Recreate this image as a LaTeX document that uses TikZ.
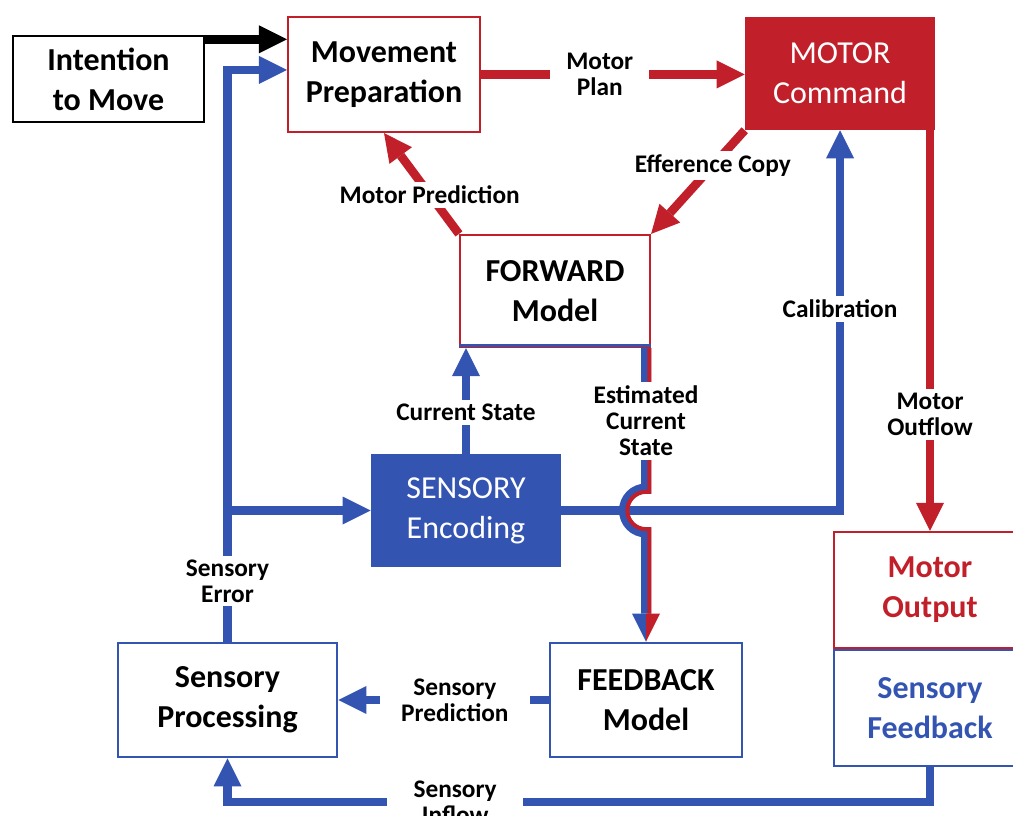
\documentclass[tikz,border=0pt]{standalone}
\usepackage{fontspec}
\setmainfont{Carlito}
\usetikzlibrary{arrows.meta}
\definecolor{mred}{RGB}{193,32,42}
\definecolor{sblue}{RGB}{52,84,178}
\newcommand{\boxtxt}{\fontsize{24}{30}\selectfont\bfseries}
\newcommand{\lbltxt}{\fontsize{19}{19.5}\selectfont\bfseries}

\begin{document}
\begin{tikzpicture}[x=0.75pt,y=0.75pt,yscale=-1,xscale=1,
  diagbox/.style={rectangle,align=center,inner sep=0pt,font=\boxtxt},
  blackbox/.style={diagbox,draw=black,line width=2pt},
  redbox/.style={diagbox,draw=mred,line width=1.6pt},
  bluebox/.style={diagbox,draw=sblue,line width=2pt},
  redfill/.style={diagbox,fill=mred,text=white,font=\boxtxt\mdseries},
  bluefill/.style={diagbox,fill=sblue,text=white,font=\boxtxt\mdseries},
  headtip/.style={-{Triangle[length=21pt,width=21pt,line width=0pt]}},
  redarr/.style={draw=mred,line width=6.5pt,headtip},
  bluearr/.style={draw=sblue,line width=6.5pt,headtip},
  lbl/.style={fill=white,text=black,font=\lbltxt,align=center,inner xsep=12pt,inner ysep=3pt}]
\useasboundingbox (0,0) rectangle (1013,816);

% boxes
\node[blackbox,minimum width=143.25pt,minimum height=64.5pt] (intent) at (108.5,79) {Intention\\to Move};
\node[redbox,minimum width=144pt,minimum height=86.25pt] (prep) at (384,74.5) {Movement\\Preparation};
\node[redfill,minimum width=142.5pt,minimum height=84.75pt] (motor) at (840,73.5) {MOTOR\\Command};
\node[redbox,minimum width=142.5pt,minimum height=84pt] (forward) at (555,291) {FORWARD\\Model};
\node[bluefill,minimum width=142.5pt,minimum height=84.75pt] (sensenc) at (466,510.5) {SENSORY\\Encoding};
\node[bluebox,minimum width=144pt,minimum height=85.5pt] (feedback) at (646,700) {FEEDBACK\\Model};
\node[bluebox,minimum width=164.25pt,minimum height=85.5pt] (sensproc) at (227.5,700) {Sensory\\Processing};
\node[redbox,text=mred,minimum width=144pt,minimum height=87pt] (motout) at (930,590) {Motor\\Output};
\node[bluebox,text=sblue,minimum width=144pt,minimum height=87pt] (sensfb) at (930,708) {Sensory\\Feedback};
\draw[sblue,line width=2.25pt] ([yshift=-2.2pt]forward.south west) -- ([yshift=-2.2pt]forward.south east);

% motor side
\draw[draw=black,line width=6.5pt,headtip] ([yshift=3.5pt]intent.north east) -- ([yshift=3.5pt]intent.north east -| prep.west);
\draw[redarr] (prep.east) -- node[lbl,pos=0.45] (planlbl) {Motor\\Plan} (prep.east -| motor.west);
\draw[redarr] (motor.south west) -- node[lbl,pos=0.34] (efflbl) {Efference Copy} (forward.north east);
\draw[redarr] (forward.north west) -- node[lbl,pos=0.39] (predlbl) {Motor Prediction} (prep.south);
\draw[redarr] (motout.north |- motor.south) -- node[lbl,pos=0.71] (outlbl) {Motor\\Outflow} (motout.north);

% sensory side
\draw[bluearr] (sensenc.north) -- node[lbl,pos=0.39] (curlbl) {Current State} (sensenc.north |- forward.south);
\draw[bluearr] (sensenc.east) -- (motor.south |- sensenc.east) -- node[lbl,pos=0.53] (callbl) {Calibration} (motor.south);
\draw[bluearr] (sensproc.north) -- node[lbl,pos=0.106] (errlbl) {Sensory\\Error} ([yshift=-3.4pt]sensproc.north |- prep.west) -- ([yshift=-3.4pt]prep.west);
\draw[bluearr] (sensproc.north |- sensenc.west) -- (sensenc.west);
\draw[bluearr] (feedback.west) -- node[lbl,pos=0.446,inner xsep=16pt] (splbl) {Sensory\\Prediction} (sensproc.east);
\coordinate (inflowpt) at (0,802);
\draw[bluearr] (sensfb.south) -- (sensfb.south |- inflowpt) -- node[lbl,pos=0.676,inner xsep=20pt] (inlbl) {Sensory\\Inflow} (sensproc.south |- inflowpt) -- (sensproc.south);

% estimated current state, with hop
\coordinate (hop) at (feedback.north |- sensenc.east);
\draw[sblue,line width=7.5pt] (feedback.north |- forward.south) -- ([yshift=-16.5pt]hop) arc[start angle=270,end angle=90,radius=22] -- ([yshift=-21pt]feedback.north);
\draw[mred,line width=3pt] ([xshift=2.5pt]feedback.north |- forward.south) -- ([xshift=2.5pt,yshift=-14pt]hop) -- ++(-3.33,0) arc[start angle=270,end angle=90,radius=18.67] -- ++(3.33,0) -- ([xshift=2.5pt,yshift=-21pt]feedback.north);
\fill[sblue] (feedback.north) -- ++(-14,-28) -- ++(14,0) -- cycle;
\fill[mred] (feedback.north) -- ++(14,-28) -- ++(-14,0) -- cycle;
\path (feedback.north |- forward.south) -- node[lbl,pos=0.52] (estlbl) {Estimated\\Current\\State} ([yshift=-16.5pt]hop);

\end{tikzpicture}
\end{document}
